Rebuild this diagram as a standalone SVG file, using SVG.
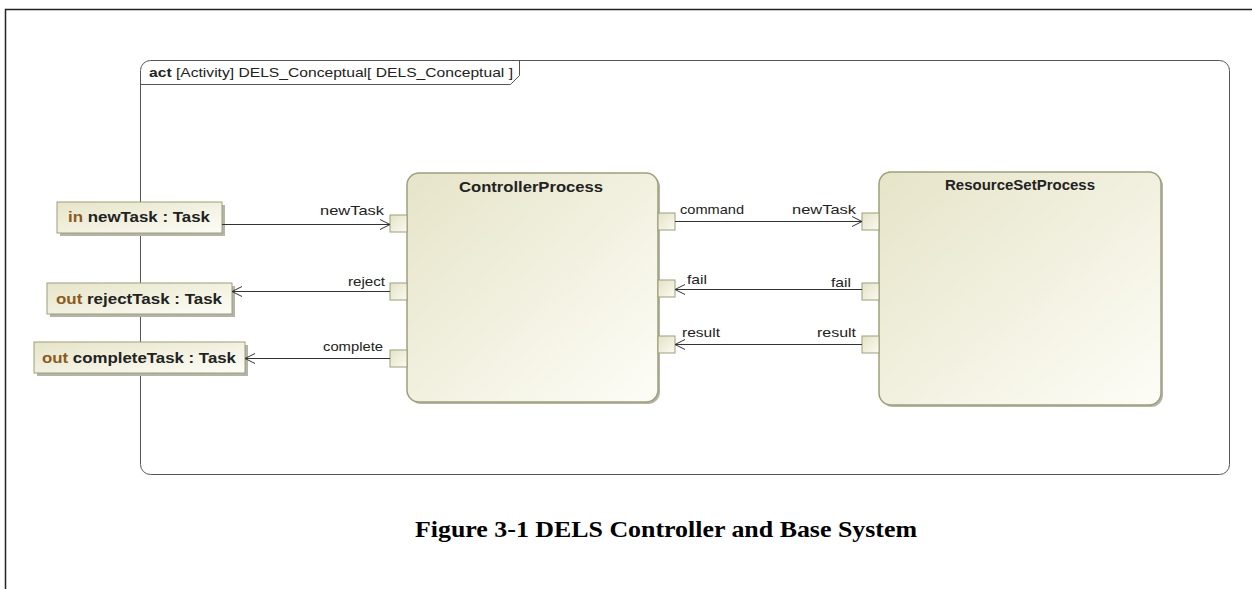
<svg xmlns="http://www.w3.org/2000/svg" width="1252" height="589" viewBox="0 0 1252 589">
<style>
.lbl{font-family:"Liberation Sans",Arial,sans-serif;font-size:13px;fill:#222}
.title{font-family:"Liberation Sans",Arial,sans-serif;font-size:15px;font-weight:bold;fill:#222}
.pin{font-family:"Liberation Sans",Arial,sans-serif;font-size:15px;font-weight:bold;fill:#222}
.kw{fill:#8a5a1e}
.box{fill:url(#g);stroke:#9e9e7c;stroke-width:1.5}
.port{fill:url(#gp);stroke:#9e9e7c;stroke-width:1}
.sh{fill:#b4b4a8}
.edge{stroke:#333;stroke-width:1;fill:none}
</style>
<defs>
<linearGradient id="g" x1="0" y1="0" x2="1" y2="1">
<stop offset="0" stop-color="#e6e4c8"/>
<stop offset="1" stop-color="#fdfdf7"/>
</linearGradient>
<linearGradient id="gp" x1="0" y1="0" x2="1" y2="1">
<stop offset="0" stop-color="#e4e2c4"/>
<stop offset="1" stop-color="#fbfbf2"/>
</linearGradient>
<marker id="arr" markerWidth="12" markerHeight="12" refX="11" refY="6" orient="auto" markerUnits="userSpaceOnUse">
<path d="M1,1 L11,6 L1,11" fill="none" stroke="#333" stroke-width="1"/>
</marker>
</defs>
<rect width="1252" height="589" fill="#fff"/>
<path d="M5.5,589 V9.5 H1252" fill="none" stroke="#222" stroke-width="1.5"/>
<g id="frame">
<rect x="140.5" y="60.5" width="1089" height="414" rx="10" fill="none" stroke="#555" stroke-width="1"/>
<path d="M140.5,84.5 H510.5 L519.5,75.5 V60.5" fill="none" stroke="#555" stroke-width="1"/>
<text x="149" y="77" class="lbl" textLength="364" lengthAdjust="spacingAndGlyphs"><tspan font-weight="bold">act</tspan> [Activity] DELS_Conceptual[ DELS_Conceptual ]</text>
</g>
<g id="pin-newTask">
<rect x="60" y="205" width="165" height="31" class="sh"/>
<rect x="57" y="202" width="165" height="31" class="box" style="stroke-width:1"/>
<text x="68" y="222" class="pin" textLength="142" lengthAdjust="spacingAndGlyphs"><tspan class="kw">in</tspan> newTask : Task</text>
</g>
<g id="pin-rejectTask">
<rect x="50" y="286" width="185" height="31" class="sh"/>
<rect x="47" y="283" width="185" height="31" class="box" style="stroke-width:1"/>
<text x="56" y="304" class="pin" textLength="166" lengthAdjust="spacingAndGlyphs"><tspan class="kw">out</tspan> rejectTask : Task</text>
</g>
<g id="pin-completeTask">
<rect x="37" y="345" width="211" height="31" class="sh"/>
<rect x="34" y="342" width="211" height="31" class="box" style="stroke-width:1"/>
<text x="42" y="363" class="pin" textLength="194" lengthAdjust="spacingAndGlyphs"><tspan class="kw">out</tspan> completeTask : Task</text>
</g>
<g id="ControllerProcess">
<rect x="409" y="175" width="251" height="229" rx="12" class="sh"/>
<rect x="407" y="173" width="251" height="229" rx="12" class="box"/>
<text x="459" y="192" class="title" textLength="144" lengthAdjust="spacingAndGlyphs">ControllerProcess</text>
<rect x="390" y="215" width="17" height="17" class="port"/>
<rect x="390" y="283" width="17" height="17" class="port"/>
<rect x="390" y="350" width="17" height="17" class="port"/>
<rect x="658" y="213" width="17" height="17" class="port"/>
<rect x="658" y="280" width="17" height="17" class="port"/>
<rect x="658" y="336" width="17" height="17" class="port"/>
</g>
<g id="ResourceSetProcess">
<rect x="881" y="174" width="282" height="233" rx="12" class="sh"/>
<rect x="879" y="172" width="282" height="233" rx="12" class="box"/>
<text x="945" y="190" class="title" textLength="150" lengthAdjust="spacingAndGlyphs">ResourceSetProcess</text>
<rect x="862" y="213" width="17" height="17" class="port"/>
<rect x="862" y="283" width="17" height="17" class="port"/>
<rect x="862" y="336" width="17" height="17" class="port"/>
</g>
<g id="connectors">
<line x1="222" y1="224.5" x2="390" y2="224.5" class="edge" marker-end="url(#arr)"/>
<text x="320" y="215" class="lbl" textLength="64" lengthAdjust="spacingAndGlyphs">newTask</text>
<line x1="390" y1="291.5" x2="232" y2="291.5" class="edge" marker-end="url(#arr)"/>
<text x="348" y="286" class="lbl" textLength="37" lengthAdjust="spacingAndGlyphs">reject</text>
<line x1="390" y1="358.5" x2="245" y2="358.5" class="edge" marker-end="url(#arr)"/>
<text x="323" y="351" class="lbl" textLength="60" lengthAdjust="spacingAndGlyphs">complete</text>
<line x1="675" y1="221.5" x2="862" y2="221.5" class="edge" marker-end="url(#arr)"/>
<text x="680" y="214" class="lbl" textLength="64" lengthAdjust="spacingAndGlyphs">command</text>
<text x="792" y="214" class="lbl" textLength="64" lengthAdjust="spacingAndGlyphs">newTask</text>
<line x1="862" y1="289.5" x2="675" y2="289.5" class="edge" marker-end="url(#arr)"/>
<text x="687" y="284" class="lbl" textLength="20" lengthAdjust="spacingAndGlyphs">fail</text>
<text x="831" y="287" class="lbl" textLength="20" lengthAdjust="spacingAndGlyphs">fail</text>
<line x1="862" y1="344.5" x2="675" y2="344.5" class="edge" marker-end="url(#arr)"/>
<text x="682" y="337" class="lbl" textLength="38" lengthAdjust="spacingAndGlyphs">result</text>
<text x="817" y="337" class="lbl" textLength="39" lengthAdjust="spacingAndGlyphs">result</text>
</g>
<text x="415" y="537" font-family="'Liberation Serif','Times New Roman',serif" font-size="24" font-weight="bold" fill="#000" textLength="502" lengthAdjust="spacingAndGlyphs">Figure 3-1 DELS Controller and Base System</text>
</svg>
